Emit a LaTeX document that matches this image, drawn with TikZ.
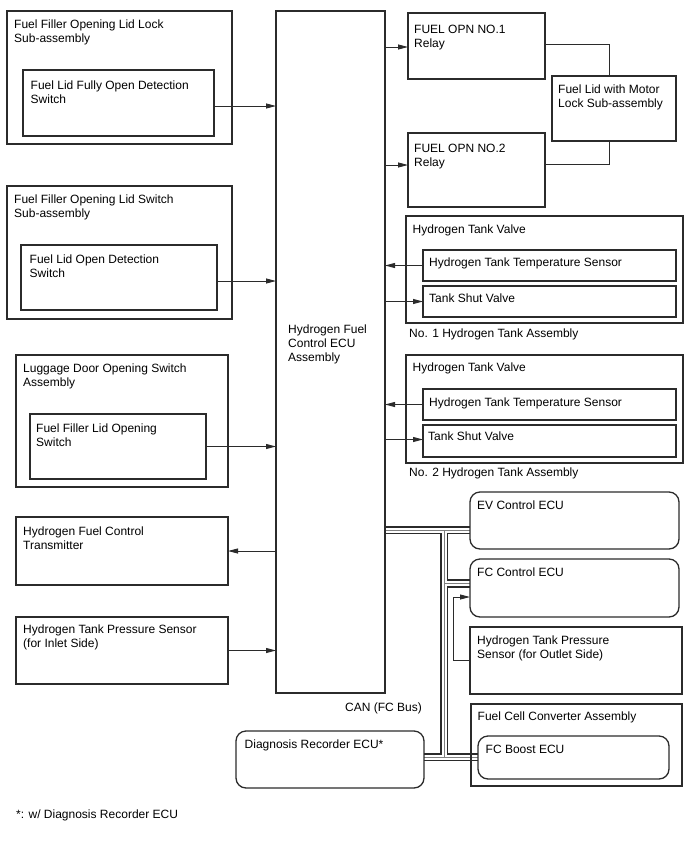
\documentclass[tikz,border=0pt]{standalone}
\usepackage{fontspec}
\setmainfont{Liberation Sans}
\usetikzlibrary{positioning,arrows.meta,backgrounds}

\definecolor{linegray}{HTML}{2B2B2B}

\tikzset{
  blk/.style 2 args={draw=linegray, line width=1.3pt, anchor=north west, inner sep=0pt,
    outer sep=0pt, minimum width=#1, minimum height=#2},
  ecubox/.style 2 args={blk={#1}{#2}, rounded corners=10pt},
  txt/.style={anchor=north west, align=left, inner sep=0pt, text=black,
    font=\fontsize{12}{13.8}\selectfont},
  sig/.style={draw=linegray, line width=0.95pt, -{Triangle[length=10pt,width=5pt]}},
  wire/.style={draw=linegray, line width=0.95pt},
}

\begin{document}
\begin{tikzpicture}[x=1pt, y=-1pt]
  \useasboundingbox (0,0) rectangle (688,852);

  % Schalter links
  \node[blk={225}{133}] (lidlock) at (7,11) {};
  \node[txt, below right=9pt and 7pt of lidlock.north west] (lidlock-t) {Fuel Filler Opening Lid Lock\\Sub-assembly};
  \node[blk={191}{66}] (fullopen) at (23,70) {};
  \node[txt, below right=10.5pt and 7.5pt of fullopen.north west] (fullopen-t) {Fuel Lid Fully Open Detection\\Switch};

  \node[blk={225}{133}] (lidsw) at (7,186) {};
  \node[txt, below right=8.5pt and 7pt of lidsw.north west] (lidsw-t) {Fuel Filler Opening Lid Switch\\Sub-assembly};
  \node[blk={196}{65}] (opendet) at (21,245) {};
  \node[txt, below right=9.5pt and 8.5pt of opendet.north west] (opendet-t) {Fuel Lid Open Detection\\Switch};

  \node[blk={212}{132}] (luggage) at (16,355) {};
  \node[txt, below right=8.5pt and 7pt of luggage.north west] (luggage-t) {Luggage Door Opening Switch\\Assembly};
  \node[blk={176}{65}] (lidopen) at (30,414) {};
  \node[txt, below right=9.5pt and 6pt of lidopen.north west] (lidopen-t) {Fuel Filler Lid Opening\\Switch};

  \node[blk={212}{68}] (transmitter) at (16,517) {};
  \node[txt, below right=10pt and 7pt of transmitter.north west] (transmitter-t) {Hydrogen Fuel Control\\Transmitter};

  \node[blk={212}{67}] (pin) at (16,617) {};
  \node[txt, below right=8pt and 7pt of pin.north west] (pin-t) {Hydrogen Tank Pressure Sensor\\(for Inlet Side)};

  % Steuergeraet
  \node[blk={109}{682}] (ecu) at (276,11) {};
  \node[txt] (ecu-t) at (288,325) {Hydrogen Fuel\\Control ECU\\Assembly};

  % Relais und Tankklappe
  \node[blk={137}{66}] (relay1) at (408,13) {};
  \node[txt, below right=12pt and 6pt of relay1.north west] (relay1-t) {FUEL OPN NO.1\\Relay};
  \node[blk={137}{74}] (relay2) at (408,133) {};
  \node[txt, below right=11pt and 6pt of relay2.north west] (relay2-t) {FUEL OPN NO.2\\Relay};
  \node[blk={124}{65}] (motor) at (552,76) {};
  \node[txt, below right=9pt and 6pt of motor.north west] (motor-t) {Fuel Lid with Motor\\Lock Sub-assembly};

  % Wasserstofftanks
  \node[blk={277}{107}] (valve1) at (406,216) {};
  \node[txt, below right=8.5pt and 6.5pt of valve1.north west] (valve1-t) {Hydrogen Tank Valve};
  \node[blk={253}{31}] (temp1) at (423,250) {};
  \node[txt, below right=7.5pt and 6pt of temp1.north west] (temp1-t) {Hydrogen Tank Temperature Sensor};
  \node[blk={253}{31}] (shut1) at (423,286) {};
  \node[txt, below right=8pt and 6pt of shut1.north west] (shut1-t) {Tank Shut Valve};
  \node[txt, below right=6pt and 3pt of valve1.south west] (tank1-t) {No. 1 Hydrogen Tank Assembly};

  \node[blk={277}{108}] (valve2) at (406,355) {};
  \node[txt, below right=7.5pt and 6.5pt of valve2.north west] (valve2-t) {Hydrogen Tank Valve};
  \node[blk={253}{31}] (temp2) at (423,389) {};
  \node[txt, below right=8.5pt and 6pt of temp2.north west] (temp2-t) {Hydrogen Tank Temperature Sensor};
  \node[blk={253}{32}] (shut2) at (423,425) {};
  \node[txt, below right=7pt and 5pt of shut2.north west] (shut2-t) {Tank Shut Valve};
  \node[txt, below right=5pt and 3pt of valve2.south west] (tank2-t) {No. 2 Hydrogen Tank Assembly};

  % Teilnehmer am CAN
  \node[ecubox={209}{57}] (evecu) at (470,492) {};
  \node[txt, below right=8.5pt and 7pt of evecu.north west] (evecu-t) {EV Control ECU};
  \node[ecubox={209}{58}] (fcecu) at (470,559) {};
  \node[txt, below right=9pt and 7pt of fcecu.north west] (fcecu-t) {FC Control ECU};
  \node[blk={212}{67}] (pout) at (470,627) {};
  \node[txt, below right=9pt and 7pt of pout.north west] (pout-t) {Hydrogen Tank Pressure\\Sensor (for Outlet Side)};
  \node[blk={211}{82}] (fcconv) at (471,704) {};
  \node[txt, below right=7.5pt and 6.5pt of fcconv.north west] (fcconv-t) {Fuel Cell Converter Assembly};
  \node[ecubox={191}{43}] (boost) at (478,736) {};
  \node[txt, below right=9pt and 7.5pt of boost.north west] (boost-t) {FC Boost ECU};
  \node[ecubox={188}{57}] (diag) at (236,731) {};
  \node[txt, below right=8.5pt and 8.5pt of diag.north west] (diag-t) {Diagnosis Recorder ECU*};

  \node[txt] (can-t) at (345,703) {CAN (FC Bus)};
  \node[txt] (note-t) at (16,810) {*: w/ Diagnosis Recorder ECU};

  % Signalleitungen zum Steuergeraet
  \draw[sig] ([yshift=-3pt]fullopen.east) -- ([yshift=-3pt]fullopen.east -| ecu.west);
  \draw[sig] ([yshift=-3.5pt]opendet.east) -- ([yshift=-3.5pt]opendet.east -| ecu.west);
  \draw[sig] (lidopen.east) -- (lidopen.east -| ecu.west);
  \draw[sig] (transmitter.east -| ecu.west) -- (transmitter.east);
  \draw[sig] (pin.east) -- (pin.east -| ecu.west);

  \draw[sig] ([yshift=-1pt]relay1.west -| ecu.east) -- ([yshift=-1pt]relay1.west);
  \draw[sig] ([yshift=5pt]relay2.west -| ecu.east) -- ([yshift=5pt]relay2.west);
  \draw[wire] ([yshift=2pt]relay1.east) -| ([xshift=-5pt]motor.north);
  \draw[wire] ([yshift=6pt]relay2.east) -| ([xshift=-5pt]motor.south);

  \draw[sig] (temp1.west) -- (temp1.west -| ecu.east);
  \draw[sig] (shut1.west -| ecu.east) -- (shut1.west);
  \draw[sig] (temp2.west) -- (temp2.west -| ecu.east);
  \draw[sig] ([yshift=1.5pt]shut2.west -| ecu.east) -- ([yshift=1.5pt]shut2.west);

  \draw[sig] (pout.west) -- ++(-17,0) |- ([yshift=-9pt]fcecu.west);

  % CAN-Bus als Doppelleitung
  \coordinate (busT) at (444,530);
  \coordinate (busFC) at (444,583.3);
  \coordinate (busB) at (444,757);
  \begin{scope}[on background layer]
    \foreach \w/\c in {8.4pt/linegray, 5pt/white, 0.8pt/gray} {
      \draw[line width=\w, draw=\c] (ecu.east |- busT) -- (evecu.west |- busT)
        (busT) -- (busB)
        (busFC) -- (fcecu.west |- busFC)
        (diag.east |- busB) -- (boost.west |- busB);
    }
  \end{scope}
\end{tikzpicture}
\end{document}
